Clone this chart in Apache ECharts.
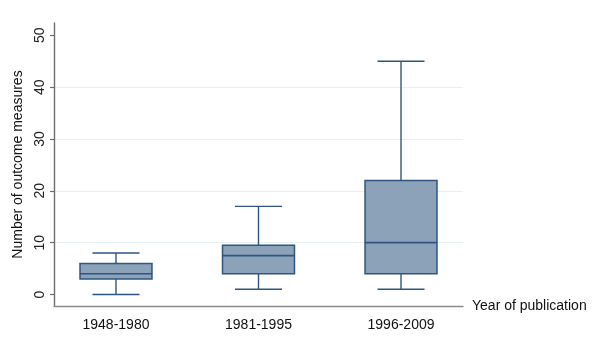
<!DOCTYPE html>
<html>
<head>
<meta charset="utf-8">
<script src="https://cdn.jsdelivr.net/npm/echarts@6/dist/echarts.min.js"></script>
<style>html,body{margin:0;padding:0;background:#fff}#c{width:600px;height:341px}</style>
</head>
<body>
<div id="c"></div>
<script>
const categories = ['1948-1980', '1981-1995', '1996-2009'];
const mins    = [0, 1, 1];
const q1s     = [3, 4, 4];
const medians = [4, 7.5, 10];
const q3s     = [6, 9.5, 22];
const maxs    = [8, 17, 45];
const yTicks  = [0, 10, 20, 30, 40, 50];
const catPositions = [0, 1, 2];

const seriesData = categories.map((c, i) => [catPositions[i], mins[i], q1s[i], medians[i], q3s[i], maxs[i]]);

const FONT = 'Liberation Sans, Arial, sans-serif';
const BOX_FILL = '#8ca2b8';
const BOX_STROKE = '#2f5580';
const AXIS_COLOR = '#6f6f6f';

function renderItem(params, api) {
  const x = api.value(0);
  const c = v => api.coord([x, v]);
  const pMin = c(api.value(1)), pQ1 = c(api.value(2)), pMed = c(api.value(3)),
        pQ3 = c(api.value(4)), pMax = c(api.value(5));
  const cx = pMed[0];
  const bw = api.size([0.505, 0])[0];
  const cw = api.size([0.33, 0])[0];
  const lineStyle = { stroke: BOX_STROKE, lineWidth: 1.4, fill: null };
  return {
    type: 'group',
    children: [
      { type: 'line', shape: { x1: cx, y1: pQ3[1], x2: cx, y2: pMax[1] }, style: lineStyle },
      { type: 'line', shape: { x1: cx, y1: pQ1[1], x2: cx, y2: pMin[1] }, style: lineStyle },
      { type: 'line', shape: { x1: cx - cw / 2, y1: pMax[1], x2: cx + cw / 2, y2: pMax[1] }, style: lineStyle },
      { type: 'line', shape: { x1: cx - cw / 2, y1: pMin[1], x2: cx + cw / 2, y2: pMin[1] }, style: lineStyle },
      { type: 'rect', shape: { x: cx - bw / 2, y: pQ3[1], width: bw, height: pQ1[1] - pQ3[1] },
        style: { fill: BOX_FILL, stroke: BOX_STROKE, lineWidth: 1.5 } },
      { type: 'line', shape: { x1: cx - bw / 2, y1: pMed[1], x2: cx + bw / 2, y2: pMed[1] },
        style: { stroke: BOX_STROKE, lineWidth: 1.6 } }
    ]
  };
}

const chart = echarts.init(document.getElementById('c'), null, { renderer: 'canvas' });
chart.setOption({
  animation: false,
  backgroundColor: '#ffffff',
  textStyle: { fontFamily: FONT },
  grid: { left: 54, top: 23, right: 137, bottom: 35, containLabel: false },
  xAxis: {
    type: 'value',
    min: -0.435,
    max: 2.435,
    name: 'Year of publication',
    nameLocation: 'end',
    nameGap: 9,
    nameTextStyle: { fontFamily: FONT, fontSize: 14, color: '#111', verticalAlign: 'middle' },
    axisLine: { show: true, onZero: false, lineStyle: { color: '#8a8a8a', width: 1.4 } },
    axisTick: { show: false },
    splitLine: { show: false },
    axisLabel: {
      customValues: catPositions,
      formatter: v => categories[Math.round(v)],
      fontFamily: FONT, fontSize: 14, color: '#111', margin: 12
    }
  },
  yAxis: {
    type: 'value',
    min: -2.22,
    max: 52.37,
    name: 'Number of outcome measures',
    nameLocation: 'middle',
    nameGap: 22,
    nameRotate: 90,
    nameTextStyle: { fontFamily: FONT, fontSize: 14, color: '#111' },
    axisLine: { show: true, onZero: false, lineStyle: { color: AXIS_COLOR, width: 1.4 } },
    axisTick: { show: true, customValues: yTicks, length: 4, lineStyle: { color: AXIS_COLOR, width: 1.2 } },
    axisLabel: {
      customValues: yTicks,
      rotate: 90,
      fontFamily: FONT, fontSize: 14, color: '#222', margin: 7
    },
    splitLine: { show: true, showMinLine: false, showMaxLine: false, lineStyle: { color: '#e6eff1', width: 1.2 } }
  },
  series: [{
    type: 'custom',
    renderItem: renderItem,
    encode: { x: 0, y: [1, 2, 3, 4, 5] },
    data: seriesData
  }]
});
</script>
</body>
</html>
